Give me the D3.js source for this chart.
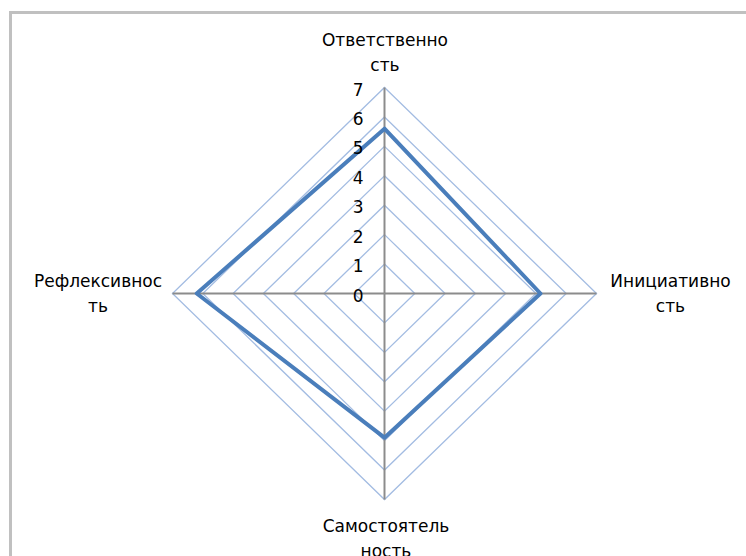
<!DOCTYPE html>
<html>
<head>
<meta charset="utf-8">
<script src="https://cdn.jsdelivr.net/npm/d3@7"></script>
<style>
  body { margin: 0; background: #fff; }
  text { font-family: "DejaVu Sans", sans-serif; font-size: 17px; fill: #000; }
</style>
</head>
<body>
<div id="chart"></div>
<script>
  // Data
  const categories = [
    ['Ответственно', 'сть'],
    ['Инициативно', 'сть'],
    ['Самостоятель', 'ность'],
    ['Рефлексивнос', 'ть']
  ]
  const values = [5.6, 5.15, 4.9, 6.2]
  const ticks = [0, 1, 2, 3, 4, 5, 6, 7]

  // Dimensions
  const dimensions = {
    width: 746,
    height: 556,
    cx: 384.5,
    cy: 293.5,
    rx: 212,
    ry: 206
  }

  const svg = d3.select('#chart')
    .append('svg')
    .attr('width', dimensions.width)
    .attr('height', dimensions.height)

  // frame
  svg.append('path')
    .attr('d', `M10.5,${dimensions.height + 5} V12.5 H${dimensions.width + 5}`)
    .attr('fill', 'none')
    .attr('stroke', '#c0c0c0')
    .attr('stroke-width', 3)

  const ctr = svg.append('g')
    .attr('transform', `translate(${dimensions.cx}, ${dimensions.cy})`)

  // Scales
  const xScale = d3.scaleLinear().domain([0, 7]).range([0, dimensions.rx])
  const yScale = d3.scaleLinear().domain([0, 7]).range([0, dimensions.ry])

  // axis directions: top, right, bottom, left
  const dirs = [[0, -1], [1, 0], [0, 1], [-1, 0]]
  const point = (v, i) => [dirs[i][0] * xScale(v), dirs[i][1] * yScale(v)]

  const line = d3.line().curve(d3.curveLinearClosed)

  // rings
  ctr.selectAll('.ring')
    .data(ticks.slice(1))
    .join('path')
    .attr('class', 'ring')
    .attr('d', t => line(dirs.map((d, i) => point(t, i))))
    .attr('fill', 'none')
    .attr('stroke', '#a3bce2')
    .attr('stroke-width', 1.3)

  // spokes
  ctr.selectAll('.spoke')
    .data(dirs)
    .join('line')
    .attr('class', 'spoke')
    .attr('x1', 0).attr('y1', 0)
    .attr('x2', (d, i) => point(7, i)[0])
    .attr('y2', (d, i) => point(7, i)[1])
    .attr('stroke', '#8c8c8c')
    .attr('stroke-width', 2)

  // data
  ctr.append('path')
    .attr('d', line(values.map((v, i) => point(v, i))))
    .attr('fill', 'none')
    .attr('stroke', '#4a7ebb')
    .attr('stroke-width', 4)
    .attr('stroke-linejoin', 'round')

  // tick labels
  ctr.selectAll('.tick')
    .data(ticks)
    .join('text')
    .attr('class', 'tick')
    .attr('x', -21)
    .attr('y', t => -yScale(t) + 8)
    .attr('text-anchor', 'end')
    .text(t => t)

  // category labels
  const labelPos = [
    [385, 46],
    [670.5, 287],
    [386, 531.5],
    [98, 287]
  ]
  svg.selectAll('.cat')
    .data(categories)
    .join('text')
    .attr('class', 'cat')
    .attr('text-anchor', 'middle')
    .attr('x', (d, i) => labelPos[i][0])
    .attr('y', (d, i) => labelPos[i][1])
    .selectAll('tspan')
    .data(d => d)
    .join('tspan')
    .attr('x', function () { return this.parentNode.getAttribute('x') })
    .attr('dy', (d, j) => j === 0 ? 0 : 25)
    .text(d => d)
</script>
</body>
</html>
